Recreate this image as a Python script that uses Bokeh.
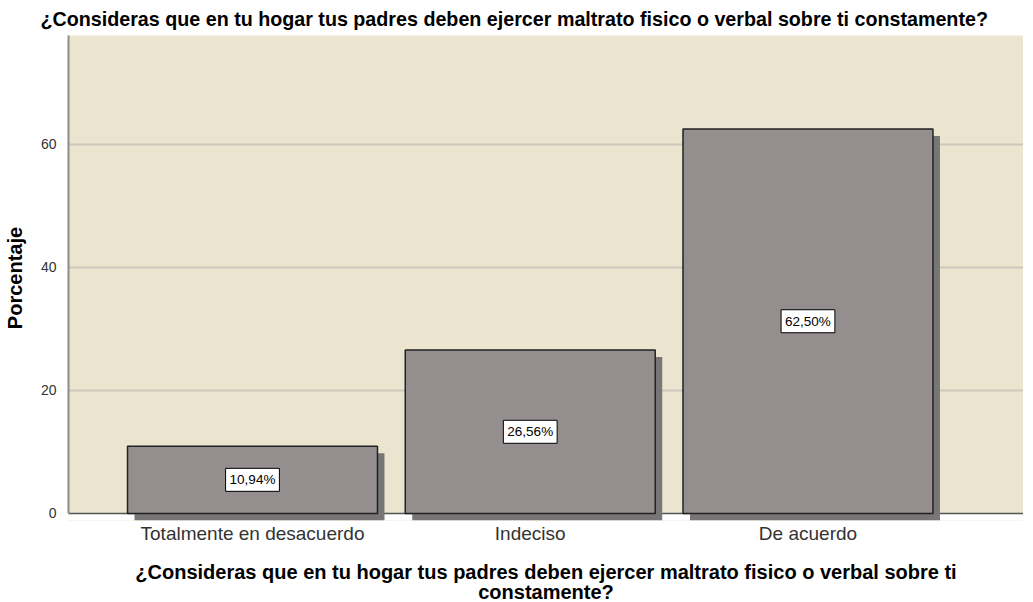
from bokeh.plotting import figure
from bokeh.models import ColumnDataSource, FixedTicker, Label, BoxAnnotation, Span, Range1d
from bokeh.embed import file_html
from bokeh.resources import INLINE

categories = ["Totalmente en desacuerdo", "Indeciso", "De acuerdo"]
percentages = [10.94, 26.56, 62.50]
y_ticks = [0, 20, 40, 60]
title_text = "¿Consideras que en tu hogar tus padres deben ejercer maltrato fisico o verbal sobre ti constamente?"
x_label = "¿Consideras que en tu hogar tus padres deben ejercer maltrato fisico o verbal sobre ti\nconstamente?"
y_label = "Porcentaje"

FONT = "Liberation Sans"
xs = list(range(1, len(categories) + 1))
labels = [f"{v:.2f}%".replace(".", ",") for v in percentages]

BAR_W = 0.9
SH_DX = 0.0252
SH_DY = 1.14
Y_TOP = 77.7

src = ColumnDataSource(dict(
    x=xs, top=percentages, mid=[v / 2 for v in percentages], label=labels,
    sx=[x + SH_DX for x in xs], stop=[v - SH_DY for v in percentages],
))

p = figure(frame_width=955, frame_height=485, output_backend="svg", toolbar_location=None,
           x_range=Range1d(0.3375, 3.776), y_range=Range1d(-SH_DY, Y_TOP),
           min_border_left=62, min_border_right=0, min_border_top=27, min_border_bottom=74)

p.background_fill_color = "#ebe5d0"
p.border_fill_color = "white"
p.outline_line_color = None

p.title.text = title_text
p.title.text_font = FONT
p.title.text_font_size = "19.7px"
p.title.text_font_style = "bold"
p.title.text_color = "black"
p.title.align = "left"
p.title.offset = -28
p.title.standoff = 11

p.add_layout(BoxAnnotation(top=0, fill_color="white", fill_alpha=1, line_color=None, level="underlay"))
p.add_layout(Span(location=0, dimension="width", line_color="#555555", line_width=1.5, level="underlay"))

p.vbar(x="sx", bottom=-SH_DY, top="stop", width=BAR_W, source=src,
       fill_color="#777575", line_color=None)
p.vbar(x="x", bottom=0, top="top", width=BAR_W, source=src,
       fill_color="#948f8e", line_color="#222222", line_width=1.5)

for x, m, t in zip(src.data["x"], src.data["mid"], src.data["label"]):
    p.add_layout(Label(x=x, y=m, text=t, text_align="center", text_baseline="middle",
                       text_font=FONT, text_font_size="13.5px", text_color="black",
                       background_fill_color="white", border_line_color="black",
                       border_line_width=1, padding=4))

xa = p.xaxis[0]
xa.ticker = FixedTicker(ticks=xs)
xa.major_label_overrides = {x: c for x, c in zip(xs, categories)}
xa.axis_line_color = None
xa.major_tick_line_color = None
xa.minor_tick_line_color = None
xa.major_label_text_font = FONT
xa.major_label_text_font_size = "19px"
xa.major_label_text_color = "#333333"
xa.major_label_standoff = -4
xa.axis_label = x_label
xa.axis_label_text_font = FONT
xa.axis_label_text_font_size = "20px"
xa.axis_label_text_font_style = "bold"
xa.axis_label_text_color = "black"
xa.axis_label_text_line_height = 0.95
xa.axis_label_standoff = 14

ya = p.yaxis[0]
ya.ticker = FixedTicker(ticks=y_ticks)
ya.bounds = (0, Y_TOP)
ya.axis_line_color = "#8c8c8c"
ya.axis_line_width = 2
ya.major_tick_line_color = None
ya.minor_tick_line_color = None
ya.major_label_text_font = FONT
ya.major_label_text_font_size = "14px"
ya.major_label_text_color = "#333333"
ya.major_label_standoff = 6
ya.axis_label = y_label
ya.axis_label_text_font = FONT
ya.axis_label_text_font_size = "20px"
ya.axis_label_text_font_style = "bold"
ya.axis_label_text_color = "black"
ya.axis_label_standoff = 12

p.xgrid.visible = False
p.ygrid[0].ticker = FixedTicker(ticks=y_ticks[1:])
p.ygrid.grid_line_color = "#cbc7bb"
p.ygrid.grid_line_width = 2

open("out.html", "w").write(file_html(p, INLINE))
